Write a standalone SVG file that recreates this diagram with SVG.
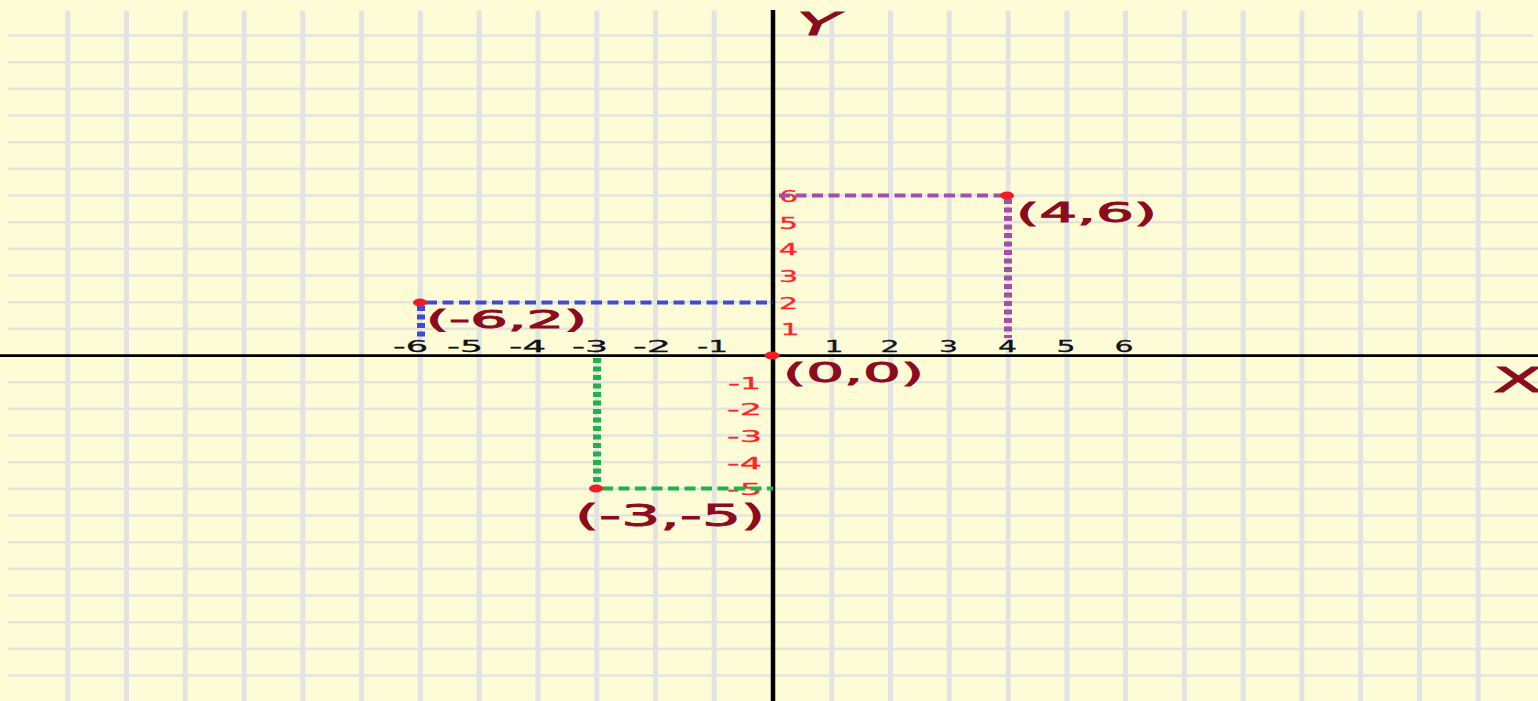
<svg xmlns="http://www.w3.org/2000/svg" width="1538" height="701" viewBox="0 0 1538 701">
<style>
.gh{stroke:#e3e3e3;stroke-width:2.5;fill:none}
.gv{stroke:#e3e3e3;stroke-width:5;fill:none}
.ax{stroke:#000;fill:none}
.big{font-family:"DejaVu Sans",Verdana,sans-serif;fill:#8c0b1e;stroke:#8c0b1e;stroke-width:0.9}
.xn{font-family:"DejaVu Sans",Verdana,sans-serif;font-size:16px;fill:#111;stroke:#111;stroke-width:0.3}
.yn{font-family:"DejaVu Sans",Verdana,sans-serif;font-size:16px;fill:#ff2424;stroke:#ff2424;stroke-width:0.3}
.dh{fill:none;stroke-width:4;stroke-dasharray:11 5.5}
.dv{fill:none;stroke-width:8;stroke-dasharray:5 3.5}
.dot{fill:#f01c24}
</style>
<rect width="1538" height="701" fill="#fefcd6"/>
<g id="grid">
<path class="gh" d="M8 35.5H1533M8 62.2H1538M8 88.8H1538M8 115.5H1538M8 142.2H1538M8 168.8H1538M8 195.5H1538M8 222.2H1538M8 248.8H1538M8 275.5H1538M8 302.2H1538M8 328.8H1538M8 382.2H1538M8 408.8H1538M8 435.5H1538M8 462.2H1538M8 488.8H1538M8 515.5H1538M8 542.2H1538M8 568.8H1538M8 595.5H1538M8 622.2H1538M8 648.8H1538M8 675.5H1538"/>
<path class="gv" d="M67.8 10.5V701M126.5 10.5V701M185.3 10.5V701M244.1 10.5V701M302.8 10.5V701M361.6 10.5V701M420.4 10.5V701M479.2 10.5V701M537.9 10.5V701M596.7 10.5V701M655.5 10.5V701M714.2 10.5V701M831.8 10.5V701M890.5 10.5V701M949.3 10.5V701M1008.1 10.5V701M1066.9 10.5V701M1125.6 10.5V701M1184.4 10.5V701M1243.2 10.5V701M1301.9 10.5V701M1360.7 10.5V701M1419.5 10.5V701M1478.2 10.5V701"/>
</g>
<g id="axes">
<line class="ax" x1="0" y1="355.7" x2="1538" y2="355.7" stroke-width="2.8"/>
<line class="ax" x1="773" y1="10" x2="773" y2="701" stroke-width="4.5"/>
<text class="big" x="797" y="35" font-size="32" font-style="italic" textLength="42" lengthAdjust="spacingAndGlyphs">Y</text>
<text class="big" x="1493" y="392" font-size="34" textLength="50" lengthAdjust="spacingAndGlyphs">X</text>
</g>
<g id="x-ticks">
<text class="xn" x="393" y="352" textLength="35" lengthAdjust="spacingAndGlyphs">-6</text>
<text class="xn" x="447" y="352" textLength="36" lengthAdjust="spacingAndGlyphs">-5</text>
<text class="xn" x="509" y="352" textLength="37" lengthAdjust="spacingAndGlyphs">-4</text>
<text class="xn" x="572" y="352" textLength="36" lengthAdjust="spacingAndGlyphs">-3</text>
<text class="xn" x="633" y="352" textLength="38" lengthAdjust="spacingAndGlyphs">-2</text>
<text class="xn" x="697" y="352" textLength="31" lengthAdjust="spacingAndGlyphs">-1</text>
<text class="xn" x="834" y="352" text-anchor="middle" textLength="19" lengthAdjust="spacingAndGlyphs">1</text>
<text class="xn" x="890" y="352" text-anchor="middle" textLength="19" lengthAdjust="spacingAndGlyphs">2</text>
<text class="xn" x="948.5" y="352" text-anchor="middle" textLength="19" lengthAdjust="spacingAndGlyphs">3</text>
<text class="xn" x="1007.5" y="352" text-anchor="middle" textLength="19" lengthAdjust="spacingAndGlyphs">4</text>
<text class="xn" x="1066" y="352" text-anchor="middle" textLength="19" lengthAdjust="spacingAndGlyphs">5</text>
<text class="xn" x="1124" y="352" text-anchor="middle" textLength="19" lengthAdjust="spacingAndGlyphs">6</text>
</g>
<g id="y-ticks">
<text class="yn" x="788.5" y="202" text-anchor="middle" textLength="19" lengthAdjust="spacingAndGlyphs">6</text>
<text class="yn" x="788.5" y="228.5" text-anchor="middle" textLength="19" lengthAdjust="spacingAndGlyphs">5</text>
<text class="yn" x="788.5" y="255.3" text-anchor="middle" textLength="19" lengthAdjust="spacingAndGlyphs">4</text>
<text class="yn" x="788.5" y="282" text-anchor="middle" textLength="19" lengthAdjust="spacingAndGlyphs">3</text>
<text class="yn" x="788.5" y="308.5" text-anchor="middle" textLength="19" lengthAdjust="spacingAndGlyphs">2</text>
<text class="yn" x="790" y="335.3" text-anchor="middle" textLength="19" lengthAdjust="spacingAndGlyphs">1</text>
<text class="yn" x="728" y="388.5" textLength="33" lengthAdjust="spacingAndGlyphs">-1</text>
<text class="yn" x="727" y="415.3" textLength="35" lengthAdjust="spacingAndGlyphs">-2</text>
<text class="yn" x="727" y="442" textLength="35" lengthAdjust="spacingAndGlyphs">-3</text>
<text class="yn" x="727" y="468.5" textLength="35" lengthAdjust="spacingAndGlyphs">-4</text>
<text class="yn" x="727" y="495.3" textLength="35" lengthAdjust="spacingAndGlyphs">-5</text>
</g>
<g id="connectors">
<path class="dh" stroke="#3c4bd8" d="M426 302.5H773"/>
<path class="dv" stroke="#3c4bd8" d="M421 306V338"/>
<path class="dh" stroke="#a54ea8" d="M779 195.5H1007"/>
<path class="dv" stroke="#a54ea8" d="M1008 199V338"/>
<path class="dh" stroke="#21b14b" d="M602 488.5H773"/>
<path class="dv" stroke="#21b14b" d="M597 358V485"/>
</g>
<g id="point-m6-2">
<ellipse class="dot" cx="420" cy="302.5" rx="7" ry="4"/>
<text class="big" x="426" y="328" font-size="24" textLength="161" lengthAdjust="spacingAndGlyphs">(-6,2)</text>
</g>
<g id="point-4-6">
<ellipse class="dot" cx="1007" cy="195.5" rx="7" ry="4"/>
<text class="big" x="1016" y="222" font-size="26" textLength="141" lengthAdjust="spacingAndGlyphs">(4,6)</text>
</g>
<g id="point-m3-m5">
<ellipse class="dot" cx="596" cy="488.5" rx="7" ry="4"/>
<text class="big" x="575" y="526" font-size="31" textLength="190" lengthAdjust="spacingAndGlyphs">(-3,-5)</text>
</g>
<g id="point-0-0">
<ellipse class="dot" cx="772" cy="355.5" rx="7.5" ry="4"/>
<text class="big" x="783" y="382" font-size="27" textLength="141" lengthAdjust="spacingAndGlyphs">(0,0)</text>
</g>
</svg>
